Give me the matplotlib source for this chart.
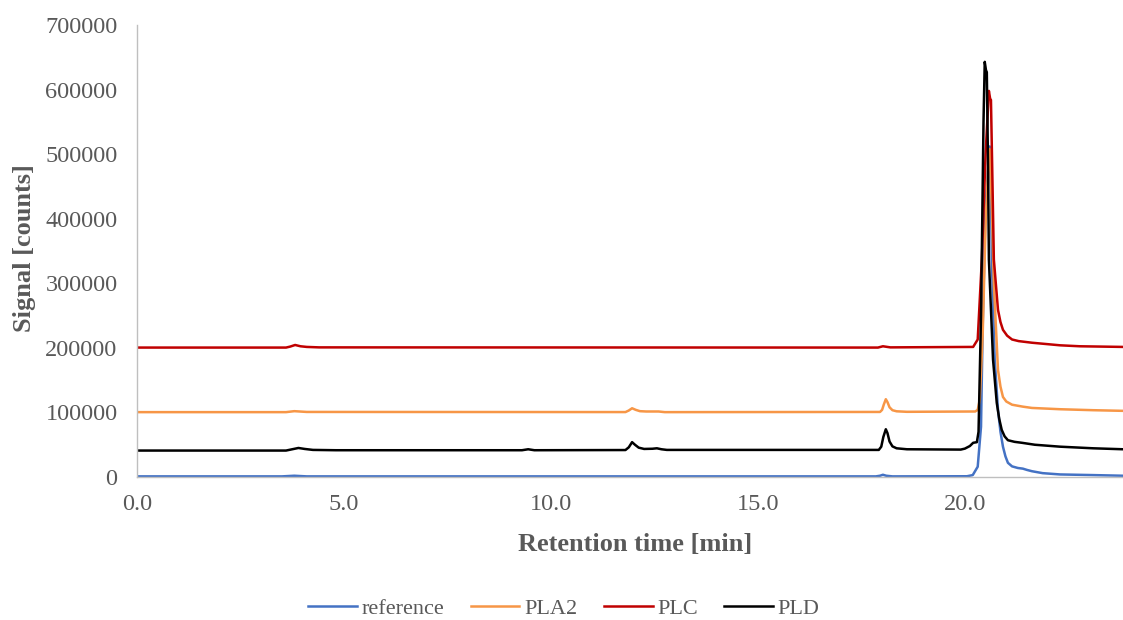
"""Overlaid chromatograms for the reference sample and the three phospholipase digests."""
import matplotlib
matplotlib.use("Agg")
import matplotlib.pyplot as plt
from matplotlib.ticker import FormatStrFormatter, MultipleLocator

# retention time [min] and signal [counts] at the points of each trace
ref_time = [0.0, 3.5, 3.8, 4.1, 9.0, 17.85, 17.95, 18.02, 18.1, 18.25, 20.05,
            20.19, 20.31, 20.39, 20.43, 20.50, 20.60, 20.63, 20.65, 20.72,
            20.80, 20.86, 20.92, 20.98, 21.04, 21.14, 21.28, 21.40, 21.5, 21.62,
            21.88, 22.3, 23.1, 23.82]
ref_signal = [1000, 1000, 2000, 1000, 1000, 1000, 2000, 3500, 2000, 1000, 1200,
              3000, 16000, 78000, 233000, 420000, 512000, 450000, 337000, 182000,
              104000, 70000, 47000, 32000, 22000, 16500, 14000, 13000, 11000, 9000,
              6000, 4000, 3000, 2000]

pla2_time = [0.0, 3.6, 3.8, 4.1, 11.8, 11.88, 11.96, 12.05, 12.15, 12.3, 12.6,
             12.75, 17.95, 18.0, 18.04, 18.09, 18.13, 18.18, 18.25, 18.35, 18.6,
             20.25, 20.31, 20.36, 20.43, 20.50, 20.57, 20.60, 20.65, 20.70, 20.75,
             20.80, 20.86, 20.92, 21.0, 21.14, 21.4, 21.62, 22.3, 23.1, 23.82]
pla2_signal = [100500, 100500, 102000, 100800, 100600, 103000, 106500, 104000,
               102000, 101500, 101500, 100500, 100800, 104000, 112000, 120500,
               116000, 108000, 103500, 101800, 101000, 101500, 104000, 120000,
               220000, 390000, 490000, 508000, 420000, 300000, 233000, 166000,
               140000, 124000, 117000, 112000, 109000, 107000, 105000, 103500,
               102500]

plc_time = [0.0, 3.6, 3.7, 3.82, 3.95, 4.1, 4.4, 17.9, 18.02, 18.2, 20.2,
            20.31, 20.41, 20.50, 20.58, 20.61, 20.63, 20.66, 20.70, 20.80, 20.86,
            20.92, 21.02, 21.14, 21.3, 21.62, 22.3, 22.78, 23.82]
plc_signal = [200500, 200500, 202000, 204500, 202500, 201500, 200800, 200500,
              202500, 200800, 201500, 213000, 337000, 500000, 598000, 586000,
              584000, 480000, 337000, 259000, 240000, 228000, 219000, 213000,
              210500, 208000, 204000, 202500, 201500]

pld_time = [0.0, 3.6, 3.75, 3.9, 4.05, 4.25, 4.8, 9.3, 9.45, 9.6, 11.8, 11.88,
            11.96, 12.03, 12.12, 12.25, 12.45, 12.56, 12.67, 12.8, 17.92, 17.98,
            18.03, 18.09, 18.13, 18.18, 18.25, 18.35, 18.6, 19.9, 20.0, 20.12,
            20.2, 20.29, 20.33, 20.39, 20.45, 20.48, 20.51, 20.53, 20.56, 20.58,
            20.68, 20.77, 20.83, 20.89, 20.96, 21.04, 21.2, 21.38, 21.69, 22.3,
            23.1, 23.82]
pld_signal = [41000, 41000, 43000, 45000, 43500, 42000, 41500, 41500, 43000,
              41500, 41800, 46000, 54000, 50000, 45500, 43500, 43800, 44500,
              43000, 42000, 42000, 47000, 62000, 74000, 68000, 55000, 47500,
              44500, 43000, 42500, 44000, 48000, 53000, 54000, 70000, 250000,
              550000, 643000, 630000, 627000, 480000, 337000, 182000, 115000,
              90000, 73000, 63000, 57000, 54500, 53000, 50000, 47000, 44500, 43000]

series = [
    ("reference", ref_time, ref_signal, "#4472C4"),
    ("PLA2", pla2_time, pla2_signal, "#F79646"),
    ("PLC", plc_time, plc_signal, "#C00000"),
    ("PLD", pld_time, pld_signal, "#000000"),
]

plt.rcParams["font.family"] = ["Liberation Serif", "DejaVu Serif"]
text_grey = "#595959"
axis_grey = "#BFBFBF"

fig = plt.figure(figsize=(11.23, 6.2), dpi=100)
ax = fig.add_axes([0.122, 0.2306, 0.878, 0.729])

for name, t, s, color in series:
    ax.plot(t, s, color=color, lw=1.8, label=name, solid_joinstyle="round")

ax.set_xlim(0, 23.82)
ax.set_ylim(0, 700000)
ax.xaxis.set_major_locator(MultipleLocator(5))
ax.xaxis.set_major_formatter(FormatStrFormatter("%.1f"))
ax.yaxis.set_major_locator(MultipleLocator(100000))

for side in ("top", "right"):
    ax.spines[side].set_visible(False)
for side in ("left", "bottom"):
    ax.spines[side].set_color(axis_grey)
    ax.spines[side].set_linewidth(1.0)

ax.tick_params(axis="both", length=0, labelsize=17.5, colors=text_grey)
ax.tick_params(axis="y", pad=14)
ax.tick_params(axis="x", pad=12)

ax.set_xlabel("Retention time [min]", fontsize=19, fontweight="bold",
              color=text_grey, va="center")
ax.xaxis.set_label_coords(0.505, -0.150)
ax.set_ylabel("Signal [counts]", fontsize=19, fontweight="bold",
              color=text_grey, va="center")
ax.yaxis.set_label_coords(-0.1136, 0.507)

leg = fig.legend(loc="center", bbox_to_anchor=(0.502, 0.018), ncol=4,
                 frameon=False, fontsize=16, handlelength=2.2,
                 handletextpad=0.2, columnspacing=1.2)
for txt in leg.get_texts():
    txt.set_color(text_grey)

fig.savefig("out.png", dpi=100)
